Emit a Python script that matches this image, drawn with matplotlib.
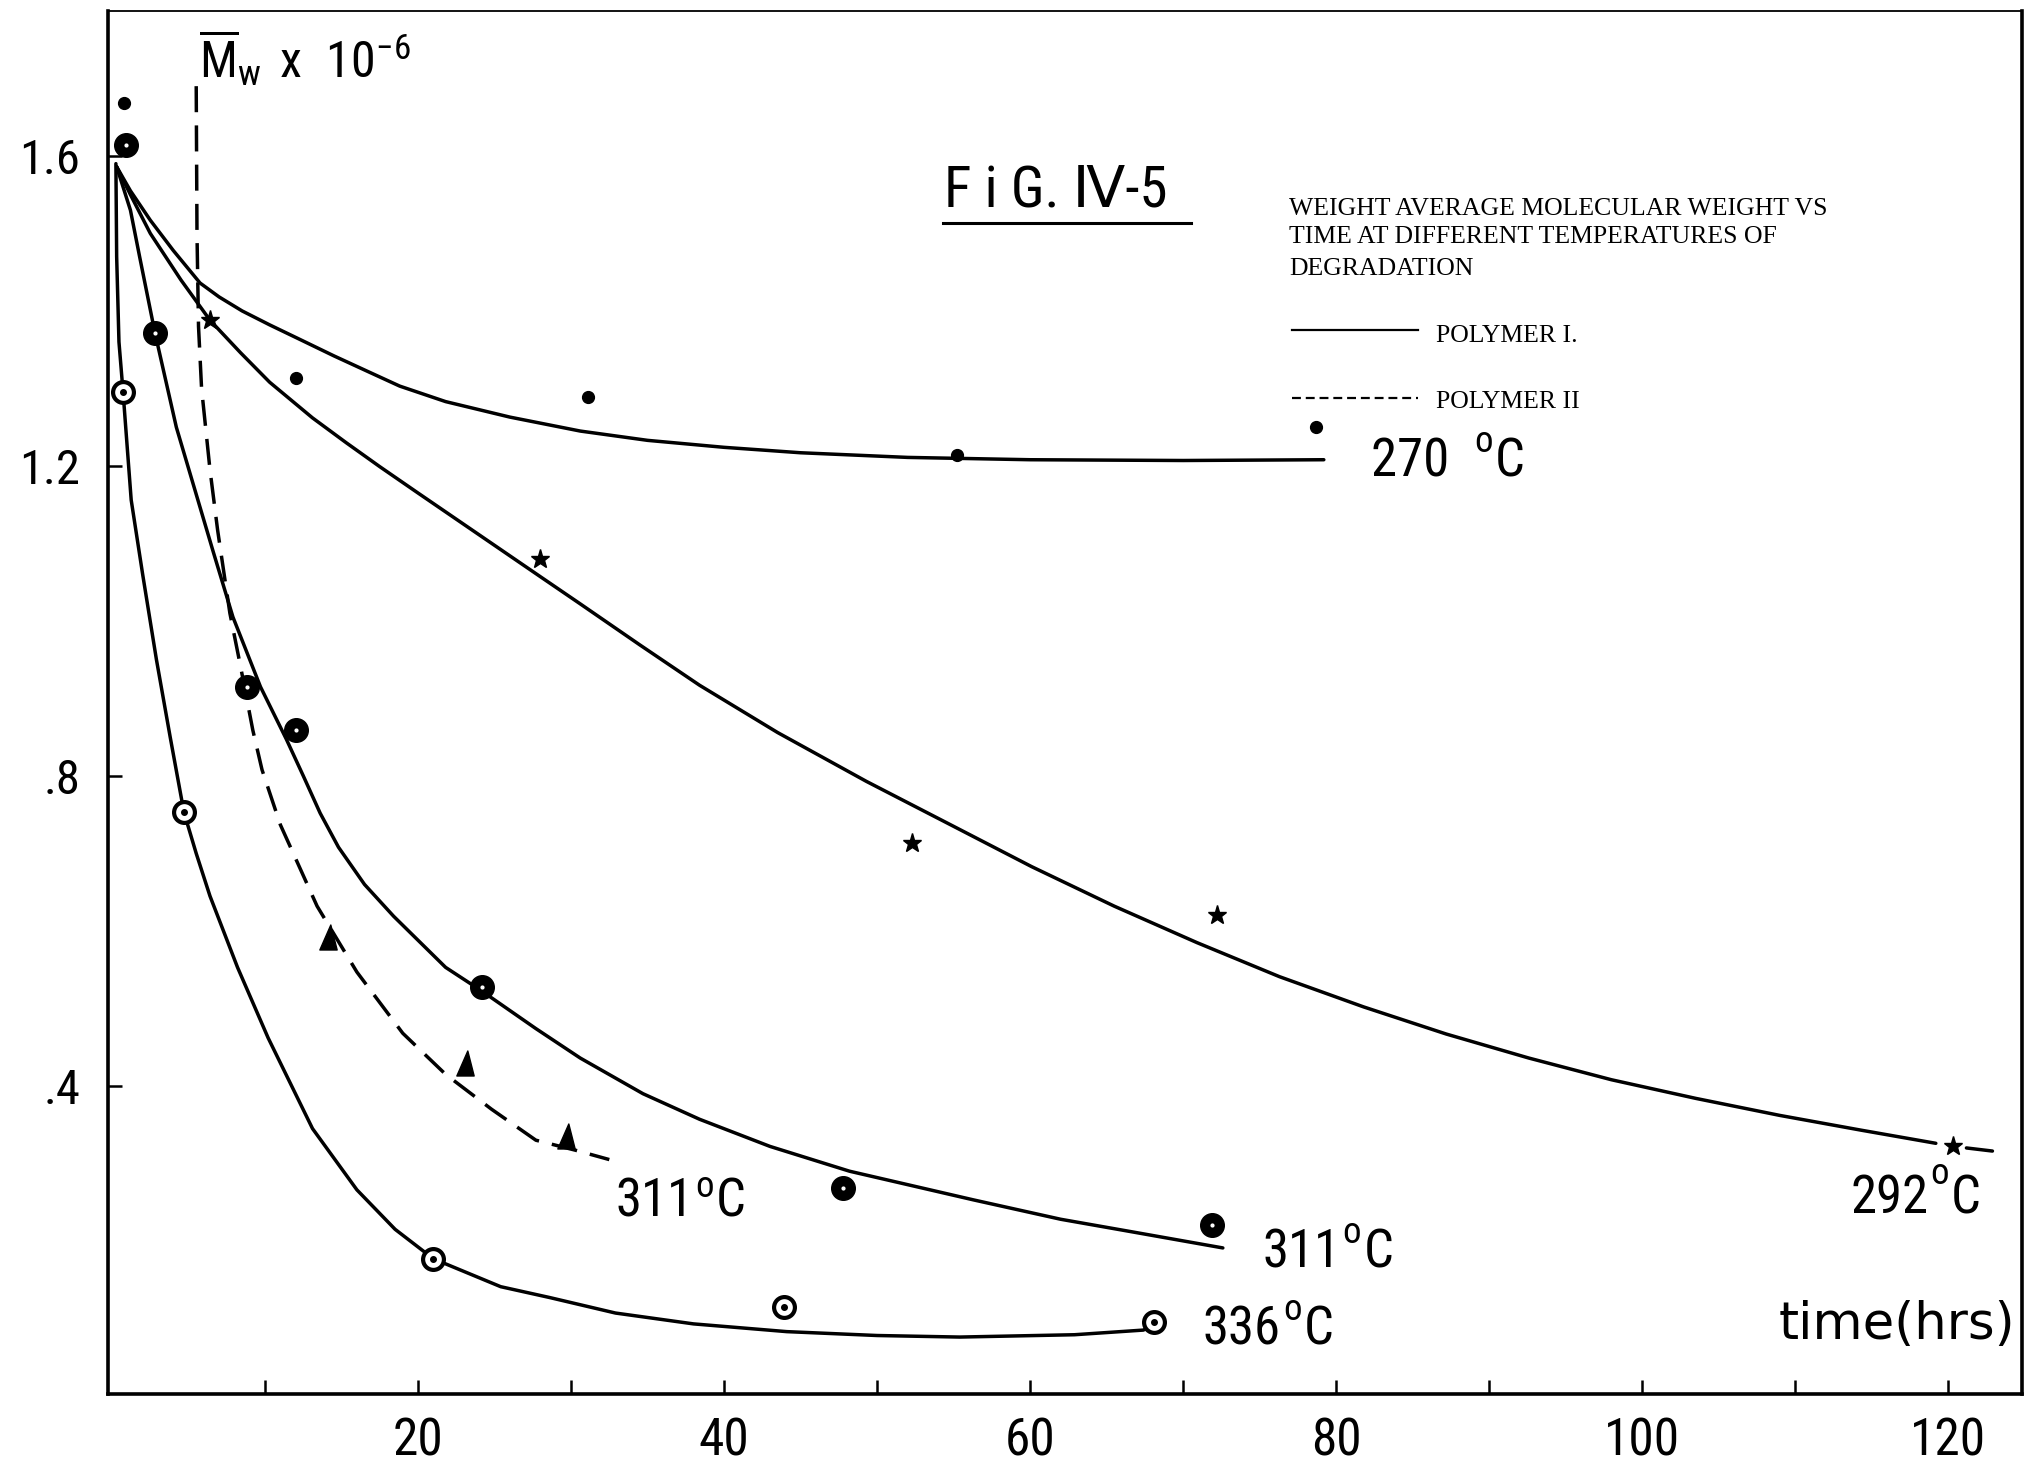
import matplotlib
matplotlib.use("Agg")
import matplotlib.pyplot as plt
import matplotlib.font_manager as fm
from matplotlib.path import Path

# ---------------- data ----------------
# time in hours, Mw x 1e-6
# 270 C, polymer I
curve_270_t = [0.3, 1.2, 2.5, 4.0, 5.75, 7.0, 8.5, 10.3, 12.3, 14.5, 16.7, 18.8, 21.8, 26.0,
               30.6, 35.0, 40.0, 45.0, 52.0, 60.0, 70.0, 79.2]
curve_270_mw = [1.586, 1.555, 1.517, 1.478, 1.436, 1.418, 1.400, 1.382, 1.363, 1.342, 1.322,
                1.303, 1.283, 1.263, 1.245, 1.233, 1.224, 1.217, 1.211, 1.208, 1.207, 1.208]
pts_270_t = [0.8, 12.0, 31.1, 55.2, 78.7]
pts_270_mw = [1.668, 1.313, 1.289, 1.214, 1.250]

# 292 C, polymer I
curve_292_t = [0.3, 1.2, 2.5, 4.5, 6.4, 8.4, 10.3, 13.1, 15.3, 17.5, 20.0, 24.0, 28.0, 30.6,
               34.5, 38.4, 43.5, 49.3, 55.0, 60.1, 65.5, 70.9, 76.3, 81.8, 87.2, 92.6, 98.0,
               103.5, 109.0, 114.3, 119.2]
curve_292_mw = [1.586, 1.55, 1.50, 1.44, 1.388, 1.346, 1.308, 1.262, 1.230, 1.199, 1.165,
                1.111, 1.057, 1.022, 0.969, 0.917, 0.856, 0.793, 0.735, 0.683, 0.632, 0.585,
                0.541, 0.502, 0.467, 0.436, 0.408, 0.384, 0.362, 0.343, 0.326]
tail_292_t = [121.2, 122.9]
tail_292_mw = [0.320, 0.316]
pts_292_t = [6.4, 28.0, 52.3, 72.2, 120.3]
pts_292_mw = [1.388, 1.080, 0.714, 0.621, 0.322]

# 311 C, polymer I
curve_311a_t = [0.3, 1.2, 1.8, 2.8, 4.2, 5.4, 6.6, 7.9, 9.7, 11.4, 12.5, 13.6, 14.8, 16.5,
                18.4, 21.8, 24.2, 27.7, 30.6, 34.7, 38.4, 43.0, 48.2, 56.3, 62.0, 66.6, 72.6]
curve_311a_mw = [1.586, 1.53, 1.47, 1.372, 1.25, 1.17, 1.09, 1.005, 0.915, 0.847, 0.80,
                 0.752, 0.708, 0.66, 0.619, 0.553, 0.522, 0.474, 0.436, 0.390, 0.357, 0.322,
                 0.29, 0.253, 0.228, 0.212, 0.191]
pts_311a_t = [0.88, 2.8, 8.8, 12.0, 24.2, 47.8, 71.9]
pts_311a_mw = [1.614, 1.372, 0.915, 0.859, 0.528, 0.268, 0.221]

# 311 C, polymer II (dashed)
curve_311b_t = [5.5, 5.55, 5.65, 5.85, 6.4, 6.9, 7.7, 8.4, 9.2, 9.8, 11.0, 13.4, 16.0, 19.0,
                21.8, 24.8, 27.7, 30.3, 32.5]
curve_311b_mw = [1.69, 1.50, 1.38, 1.30, 1.195, 1.117, 1.010, 0.941, 0.859, 0.808, 0.737,
                 0.632, 0.547, 0.468, 0.415, 0.370, 0.330, 0.317, 0.305]
pts_311b_t = [14.1, 23.1, 29.7]
pts_311b_mw = [0.592, 0.430, 0.336]

# 336 C, polymer I
curve_336_t = [0.25, 0.3, 0.45, 0.72, 1.25, 2.0, 2.9, 3.8, 4.7, 5.5, 6.4, 8.2, 10.2, 13.1,
               16.0, 18.5, 21.0, 25.4, 28.6, 32.9, 38.0, 44.1, 50.0, 55.4, 62.9, 67.4, 68.5]
curve_336_mw = [1.59, 1.47, 1.36, 1.295, 1.156, 1.06, 0.95, 0.85, 0.753, 0.70, 0.645,
                0.553, 0.462, 0.345, 0.266, 0.215, 0.177, 0.141, 0.127, 0.107, 0.093,
                0.083, 0.078, 0.076, 0.079, 0.085, 0.095]
pts_336_t = [0.72, 4.7, 21.0, 43.9, 68.1]
pts_336_mw = [1.295, 0.753, 0.177, 0.115, 0.095]

# axis ticks
xtick_pos = [10, 20, 30, 40, 50, 60, 70, 80, 90, 100, 110, 120]
xtick_labels = ["", "20", "", "40", "", "60", "", "80", "", "100", "", "120"]
ytick_pos = [0.4, 0.8, 1.2, 1.6]
ytick_labels = [".4", ".8", "1.2", "1.6"]

# texts
temp_numbers = ["270 ", "292", "311", "311", "336"]
caption_lines = ["WEIGHT AVERAGE MOLECULAR WEIGHT VS",
                 "TIME AT DIFFERENT TEMPERATURES OF",
                 "DEGRADATION"]
legend_labels = ["POLYMER I.", "POLYMER II"]
fig_title = "F i G. \u2163-5"
y_title = (r"$\overline{\mathrm{M}}_{\mathrm{w}}\ \,\mathrm{x}\ \ "
           r"\mathrm{10}^{\mathrm{-6}}$")
x_title = "time(hrs)"

# ---------------- pick a narrow sans face if one is installed ----------------
_entries = fm.fontManager.ttflist
_names = {f.name for f in _entries}
NARROW_FAMILY, NARROW_STRETCH = None, "normal"
for cand in ["Liberation Sans Narrow", "Roboto Condensed", "Noto Sans Condensed",
             "Open Sans Condensed", "DejaVu Sans Condensed", "Nimbus Sans Narrow",
             "Arial Narrow"]:
    if cand in _names:
        NARROW_FAMILY = cand
        break
if NARROW_FAMILY is None:
    for fam in ["DejaVu Sans", "Noto Sans", "Roboto", "Open Sans"]:
        if any(f.name == fam and f.stretch == "condensed" and f.style == "normal"
               for f in _entries):
            NARROW_FAMILY, NARROW_STRETCH = fam, "condensed"
            break
if NARROW_FAMILY is None:
    NARROW_FAMILY = "Roboto" if "Roboto" in _names else "DejaVu Sans"

plt.rcParams["font.family"] = [NARROW_FAMILY, "DejaVu Sans"]
plt.rcParams["font.stretch"] = NARROW_STRETCH
plt.rcParams["mathtext.fontset"] = "custom"
plt.rcParams["mathtext.rm"] = NARROW_FAMILY
plt.rcParams["mathtext.it"] = NARROW_FAMILY + ":italic"
plt.rcParams["mathtext.bf"] = NARROW_FAMILY + ":bold"
plt.rcParams["mathtext.sf"] = NARROW_FAMILY

fig = plt.figure(figsize=(20.28, 14.65), dpi=100)
fig.patch.set_facecolor("white")
ax = fig.add_axes([0.0533, 0.0485, 0.9438, 0.9440])
ax.set_xlim(-0.26, 124.84)
ax.set_ylim(0.0026, 1.787)

LW = 2.5
kw_line = dict(color="black", lw=LW, solid_capstyle="round", solid_joinstyle="round")

ax.plot(curve_270_t, curve_270_mw, **kw_line)
ax.plot(curve_292_t, curve_292_mw, **kw_line)
ax.plot(tail_292_t, tail_292_mw, **kw_line)
ax.plot(curve_311a_t, curve_311a_mw, **kw_line)
ax.plot(curve_336_t, curve_336_mw, **kw_line)
ax.plot(curve_311b_t, curve_311b_mw, color="black", lw=LW, linestyle=(0, (7.5, 3.8)),
        dash_capstyle="butt")

# markers
ax.plot(pts_270_t, pts_270_mw, ls="none", marker="o", ms=8.5, color="black")
ax.plot(pts_292_t, pts_292_mw, ls="none", marker="*", ms=14, color="black")
ax.plot(pts_311a_t, pts_311a_mw, ls="none", marker="o", ms=17, color="black")
ax.plot(pts_311a_t, pts_311a_mw, ls="none", marker="o", ms=2.0, color="white")
ax.plot(pts_336_t, pts_336_mw, ls="none", marker="o", ms=15, mfc="white", mec="black", mew=3.0)
ax.plot(pts_336_t, pts_336_mw, ls="none", marker="o", ms=4, color="black")
tri = Path([(-0.45, -0.65), (0.45, -0.65), (0.12, 0.65), (-0.45, -0.65)],
           [Path.MOVETO, Path.LINETO, Path.LINETO, Path.CLOSEPOLY])
ax.plot(pts_311b_t, pts_311b_mw, ls="none", marker=tri, ms=18, color="black")

# ticks
ax.set_xticks(xtick_pos)
ax.set_xticklabels(xtick_labels)
ax.set_yticks(ytick_pos)
ax.set_yticklabels(ytick_labels)
ax.tick_params(axis="x", direction="in", length=10, width=1.8, pad=16, labelsize=37)
ax.tick_params(axis="y", direction="in", length=10, width=1.8, pad=20, labelsize=35)
for s in ax.spines.values():
    s.set_linewidth(2.6)
ax.spines["top"].set_linewidth(1.3)


def temp_label(x, y, number, fs=38, gap=1.5, rise=9):
    t1 = ax.text(x, y, number, fontsize=fs, ha="left", va="baseline")
    t2 = ax.annotate("o", xy=(1, 1), xycoords=t1, xytext=(gap, rise),
                     textcoords="offset points", fontsize=fs * 0.7, ha="left", va="top")
    ax.annotate("C", xy=(1, 0), xycoords=(t2, t1), xytext=(1.5, 0),
                textcoords="offset points", fontsize=fs, ha="left", va="bottom")


# temperature labels (data coordinates)
temp_label(82.3, 1.186, temp_numbers[0], gap=9)
temp_label(113.6, 0.236, temp_numbers[1], rise=12)
temp_label(32.9, 0.231, temp_numbers[2], rise=6)
temp_label(75.2, 0.166, temp_numbers[3])
temp_label(71.3, 0.066, temp_numbers[4])

# axis titles
ax.text(0.9962, 0.0395, x_title, transform=ax.transAxes, fontsize=37,
        family=["DejaVu Sans"], stretch="normal", ha="right", va="baseline")
ax.text(0.0475, 0.9516, y_title, transform=ax.transAxes, fontsize=36,
        ha="left", va="baseline")

# figure title with underline
ax.text(0.4368, 0.8583, fig_title, transform=ax.transAxes, fontsize=41,
        ha="left", va="baseline")
ax.plot([0.4362, 0.5658], [0.8467, 0.8467], transform=ax.transAxes, color="black", lw=2.2)

# caption
SERIF = ["Liberation Serif", "DejaVu Serif"]
for line, yy in zip(caption_lines, [0.8525, 0.8322, 0.8091]):
    ax.text(0.6170, yy, line, transform=ax.transAxes, fontsize=18.5, family=SERIF,
            stretch="normal", ha="left", va="baseline")

# legend
ax.plot([0.6186, 0.6844], [0.7693, 0.7693], transform=ax.transAxes, color="black", lw=1.6)
ax.plot([0.6186, 0.6844], [0.7202, 0.7202], transform=ax.transAxes, color="black", lw=1.6,
        linestyle=(0, (4, 2.2)))
ax.text(0.6938, 0.7607, legend_labels[0], transform=ax.transAxes, fontsize=18.5,
        family=SERIF, stretch="normal", ha="left", va="baseline")
ax.text(0.6938, 0.7129, legend_labels[1], transform=ax.transAxes, fontsize=18.5,
        family=SERIF, stretch="normal", ha="left", va="baseline")

fig.savefig("out.png", dpi=100, facecolor="white")
